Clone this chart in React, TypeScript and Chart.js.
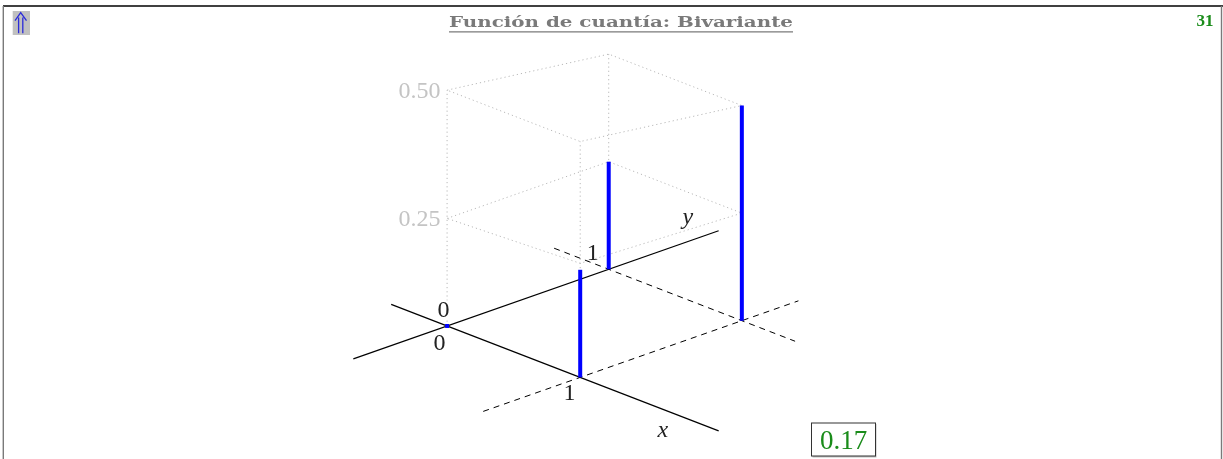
import React, { useEffect, useRef } from "react";
import Chart from "chart.js/auto";

const WIDTH = 1223;
const HEIGHT = 459;

// Support of the bivariate distribution and its probability mass p(x, y)
const xValues = [0, 1];
const yValues = [0, 1];
const pmf = [
  [0, 0.25], // x = 0 : y = 0, y = 1
  [0.25, 0.5], // x = 1 : y = 0, y = 1
];

// Vertical axis ticks
const zTicks = [0.25, 0.5];
const zTickLabels = ["0.25", "0.50"];
const xTickLabels = ["0", "1"];
const yTickLabels = ["0", "1"];

// Extent of the drawn axes and of the dashed guide lines (in data units)
const xAxisSpan = [-0.42, 2.04];
const yAxisSpan = [-0.58, 1.68];
const xGuideSpan = [-0.41, 1.4]; // dashed line at y = 1
const yGuideSpan = [-0.6, 1.35]; // dashed line at x = 1

// Corners of the reference box (left, back, right, front) and the
// height of each tick plane at every corner
const boxCorners = [
  [0, 0],
  [0, 1],
  [1, 1],
  [1, 0],
];
const boxLevels = [
  [0.25, 0.25, 0.25, 0.265],
  [0.548, 0.5, 0.5, 0.548],
];

const titleText = "Función de cuantía: Bivariante";
const pageNumber = "31";
const frameValue = "0.17";

// Oblique projection of (x, y, z) onto the canvas plane
const ORIGIN = [446, 327.7];
const UX = [134, 52.3];
const UY = [162.7, -57.7];
const UZ = 438;

function project(x: number, y: number, z: number) {
  return {
    x: ORIGIN[0] + x * UX[0] + y * UY[0],
    y: ORIGIN[1] + x * UX[1] + y * UY[1] - z * UZ,
  };
}

const BLUE = "#0000ff";
const GREEN = "#1a8c1a";
const GRID = "#b8b8b8";
const GRID_TEXT = "#c4c4c4";

function lineSet(points: { x: number; y: number }[], opts: any) {
  return {
    type: "scatter",
    data: points,
    showLine: true,
    fill: false,
    pointRadius: 0,
    pointHoverRadius: 0,
    borderCapStyle: "butt",
    ...opts,
  };
}

function buildDatasets() {
  const sets: any[] = [];

  // dotted reference box
  boxCorners.forEach(([cx, cy], k) => {
    const top = boxLevels[boxLevels.length - 1][k];
    sets.push(
      lineSet([project(cx, cy, 0), project(cx, cy, top)], {
        borderColor: GRID,
        borderWidth: 1,
        borderDash: [1.2, 3],
        order: 3,
      })
    );
  });
  boxLevels.forEach((levels) => {
    const loop = boxCorners.map(([cx, cy], k) => project(cx, cy, levels[k]));
    loop.push(loop[0]);
    sets.push(
      lineSet(loop, {
        borderColor: GRID,
        borderWidth: 1,
        borderDash: [1.2, 3],
        order: 3,
      })
    );
  });

  // axes
  sets.push(
    lineSet([project(xAxisSpan[0], 0, 0), project(xAxisSpan[1], 0, 0)], {
      borderColor: "#000",
      borderWidth: 1.2,
      order: 2,
    })
  );
  sets.push(
    lineSet([project(0, yAxisSpan[0], 0), project(0, yAxisSpan[1], 0)], {
      borderColor: "#000",
      borderWidth: 1.2,
      order: 2,
    })
  );

  // dashed guides through x = 1 and y = 1
  sets.push(
    lineSet([project(1, yGuideSpan[0], 0), project(1, yGuideSpan[1], 0)], {
      borderColor: "#000",
      borderWidth: 1,
      borderDash: [6, 5],
      order: 2,
    })
  );
  sets.push(
    lineSet([project(xGuideSpan[0], 1, 0), project(xGuideSpan[1], 1, 0)], {
      borderColor: "#000",
      borderWidth: 1,
      borderDash: [6, 5],
      order: 2,
    })
  );

  // probability bars
  const zeroPoints: { x: number; y: number }[] = [];
  xValues.forEach((xv, i) => {
    yValues.forEach((yv, j) => {
      const p = pmf[i][j];
      if (p > 0) {
        sets.push(
          lineSet([project(xv, yv, 0), project(xv, yv, p)], {
            borderColor: BLUE,
            borderWidth: 4,
            order: 0,
          })
        );
      } else {
        zeroPoints.push(project(xv, yv, 0));
      }
    });
  });
  sets.push({
    type: "scatter",
    data: zeroPoints,
    pointStyle: "rect",
    pointRadius: 2.8,
    pointBackgroundColor: BLUE,
    pointBorderWidth: 0,
    showLine: false,
    order: 0,
  });

  return sets;
}

function drawCentered(
  ctx: CanvasRenderingContext2D,
  text: string,
  cx: number,
  cy: number,
  font: string,
  color: string,
  align: "center" | "right" = "center",
  whiteBg = false
) {
  ctx.save();
  ctx.font = font;
  ctx.textAlign = align;
  ctx.textBaseline = "alphabetic";
  const m = ctx.measureText(text);
  const asc = m.actualBoundingBoxAscent;
  const desc = m.actualBoundingBoxDescent;
  const baseline = cy + (asc - desc) / 2;
  if (whiteBg) {
    const w = m.width;
    const left = align === "center" ? cx - w / 2 : cx - w;
    ctx.fillStyle = "#fff";
    ctx.fillRect(left - 1, baseline - asc - 2, w + 2, asc + desc + 3);
  }
  ctx.fillStyle = color;
  ctx.fillText(text, cx, baseline);
  ctx.restore();
}

const annotations = {
  id: "annotations",
  afterDatasetsDraw(chart: any) {
    const ctx: CanvasRenderingContext2D = chart.ctx;
    const sx = chart.scales.x;
    const sy = chart.scales.y;
    const px = (p: { x: number; y: number }) => ({
      x: sx.getPixelForValue(p.x),
      y: sy.getPixelForValue(p.y),
    });
    const serif = "'Liberation Serif', 'DejaVu Serif', serif";

    // frame of the slide
    ctx.save();
    ctx.strokeStyle = "#000";
    ctx.lineWidth = 1.3;
    ctx.beginPath();
    ctx.moveTo(3, 6);
    ctx.lineTo(WIDTH, 6);
    ctx.stroke();
    ctx.strokeStyle = "#7a7a7a";
    ctx.lineWidth = 1.4;
    ctx.beginPath();
    ctx.moveTo(3.3, 6);
    ctx.lineTo(3.3, HEIGHT);
    ctx.moveTo(WIDTH - 1.5, 6);
    ctx.lineTo(WIDTH - 1.5, HEIGHT);
    ctx.stroke();
    ctx.restore();

    // back-navigation button
    ctx.save();
    ctx.fillStyle = "#c0c0c0";
    ctx.fillRect(12.7, 11, 17.3, 24);
    ctx.strokeStyle = "#2b2bd9";
    ctx.lineWidth = 1.3;
    ctx.beginPath();
    ctx.moveTo(18.6, 17.5);
    ctx.lineTo(18.6, 33.3);
    ctx.moveTo(22.8, 17.5);
    ctx.lineTo(22.8, 33.3);
    ctx.moveTo(15, 20.7);
    ctx.lineTo(20.7, 12.7);
    ctx.lineTo(26.5, 20.7);
    ctx.stroke();
    ctx.restore();

    // title, underlined
    ctx.save();
    ctx.font = "bold 15.5px 'DejaVu Serif', serif";
    ctx.fillStyle = "#7a7a7a";
    ctx.textBaseline = "alphabetic";
    const tw = ctx.measureText(titleText).width;
    const titleLeft = 449;
    const titleWidth = 344;
    ctx.translate(titleLeft, 27.3);
    ctx.scale(titleWidth / tw, 1);
    ctx.fillText(titleText, 0, 0);
    ctx.restore();
    ctx.save();
    ctx.strokeStyle = "#7a7a7a";
    ctx.lineWidth = 1.2;
    ctx.beginPath();
    ctx.moveTo(titleLeft, 31.8);
    ctx.lineTo(titleLeft + titleWidth, 31.8);
    ctx.stroke();
    ctx.restore();

    // page number
    ctx.save();
    ctx.font = `bold 17px ${serif}`;
    ctx.fillStyle = GREEN;
    ctx.textAlign = "right";
    ctx.fillText(pageNumber, 1213.5, 25.5);
    ctx.restore();

    // vertical tick labels
    zTicks.forEach((z, k) => {
      const level = boxLevels[k][0];
      const p = px(project(0, 0, level));
      drawCentered(ctx, zTickLabels[k], p.x - 6.5, p.y, `24px ${serif}`, GRID_TEXT, "right");
    });

    // x / y tick labels
    const o = px(project(0, 0, 0));
    drawCentered(ctx, yTickLabels[0], o.x - 3.5, o.y - 16, `24px ${serif}`, "#222", "center", true);
    drawCentered(ctx, xTickLabels[0], o.x - 7.7, o.y + 16.3, `24px ${serif}`, "#222");
    const x1 = px(project(xValues[1], 0, 0));
    drawCentered(ctx, xTickLabels[1], x1.x - 10.7, x1.y + 15, `24px ${serif}`, "#222");
    const y1 = px(project(0, yValues[1], 0));
    drawCentered(ctx, yTickLabels[1], y1.x - 16, y1.y - 16.7, `24px ${serif}`, "#222");

    // axis names
    const xn = px(project(1.62, 0, 0));
    drawCentered(ctx, "x", xn.x, xn.y + 22.5, `italic 24px ${serif}`, "#222");
    const yn = px(project(0, 1.48, 0));
    drawCentered(ctx, "y", yn.x + 1.5, yn.y - 21, `italic 24px ${serif}`, "#222");

    // boxed value
    ctx.save();
    ctx.fillStyle = "rgba(0,0,0,0.25)";
    ctx.fillRect(812.5, 424, 64, 33.5);
    ctx.fillStyle = "#fff";
    ctx.fillRect(811.5, 423, 64, 33);
    ctx.strokeStyle = "#333";
    ctx.lineWidth = 1;
    ctx.strokeRect(811.5, 423, 64, 33);
    ctx.restore();
    drawCentered(ctx, frameValue, 843.5, 440, `27px ${serif}`, GREEN);
  },
};

export default function App() {
  const canvasRef = useRef<HTMLCanvasElement | null>(null);

  useEffect(() => {
    document.body.style.margin = "0";
    const canvas = canvasRef.current;
    if (!canvas) return;
    const chart = new Chart(canvas, {
      type: "scatter",
      data: { datasets: buildDatasets() },
      options: {
        responsive: false,
        devicePixelRatio: 1,
        animation: false,
        events: [],
        layout: { padding: 0 },
        plugins: {
          legend: { display: false },
          tooltip: { enabled: false },
          title: { display: false },
        },
        scales: {
          x: { type: "linear", min: 0, max: WIDTH, display: false },
          y: { type: "linear", min: 0, max: HEIGHT, reverse: true, display: false },
        },
      },
      plugins: [annotations],
    } as any);
    return () => chart.destroy();
  }, []);

  return (
    <div style={{ position: "fixed", left: 0, top: 0, width: WIDTH, height: HEIGHT, background: "#fff" }}>
      <canvas ref={canvasRef} width={WIDTH} height={HEIGHT} style={{ display: "block" }} />
    </div>
  );
}
